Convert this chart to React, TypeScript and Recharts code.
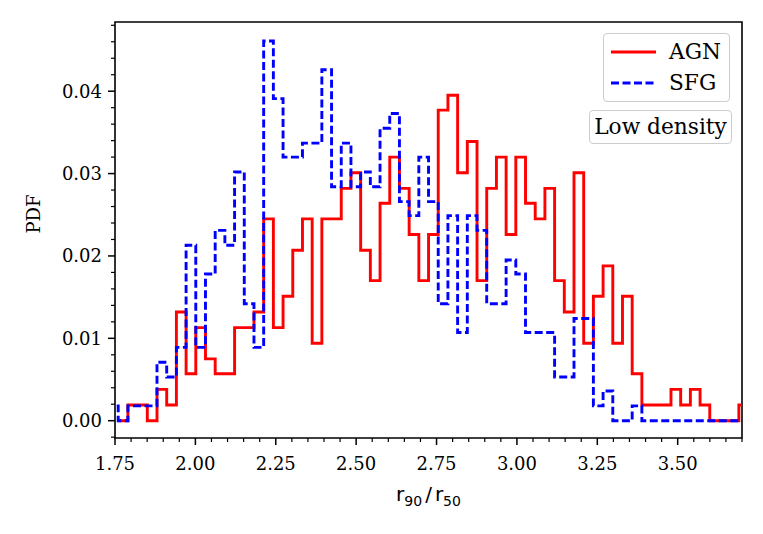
import React from "react";
import { LineChart, Line, XAxis, YAxis, ReferenceArea, Label } from "recharts";

// axis limits
const X_MIN = 1.75;
const X_MAX = 3.7;
const Y_MIN = -0.0021;
const Y_MAX = 0.0484;

const X_MAJOR = [1.75, 2.0, 2.25, 2.5, 2.75, 3.0, 3.25, 3.5];
const Y_MAJOR = [0, 0.01, 0.02, 0.03, 0.04];

// histogram bins (same bin width for both samples)
const BIN_WIDTH = 0.03016;
const AGN_FIRST_EDGE = 1.76;
const SFG_FIRST_EDGE = 1.7298;

// PDF per bin
const AGN_PDF = [
  0, 0.0019, 0.0019, 0, 0.0038, 0.0019, 0.0132, 0.0057, 0.0113, 0.0075,
  0.0057, 0.0057, 0.0113, 0.0113, 0.0132, 0.0245, 0.0113, 0.0151, 0.0207, 0.0245,
  0.0094, 0.0245, 0.0245, 0.0282, 0.0301, 0.0207, 0.017, 0.0264, 0.032, 0.0282,
  0.0226, 0.017, 0.0226, 0.0377, 0.0395, 0.0301, 0.0339, 0.017, 0.0282, 0.032,
  0.0226, 0.032, 0.0264, 0.0245, 0.0282, 0.017, 0.0132, 0.0301, 0.0094, 0.0151,
  0.0188, 0.0094, 0.0151, 0.0057, 0.0019, 0.0019, 0.0019, 0.0038, 0.0019, 0.0038,
  0.0019, 0, 0, 0, 0.0019,
];

const SFG_PDF = [
  0.0018, 0, 0.0018, 0.0018, 0.0018, 0.0071, 0.0053, 0.0089, 0.0213, 0.0089,
  0.0178, 0.0231, 0.0213, 0.0302, 0.0142, 0.0089, 0.0461, 0.0391, 0.032, 0.032,
  0.0337, 0.0337, 0.0426, 0.0284, 0.0337, 0.0284, 0.0302, 0.0284, 0.0355, 0.0373,
  0.0266, 0.0249, 0.032, 0.0266, 0.0142, 0.0249, 0.0107, 0.0249, 0.0231, 0.0142,
  0.0142, 0.0195, 0.0178, 0.0107, 0.0107, 0.0107, 0.0053, 0.0053, 0.0124, 0.0124,
  0.0018, 0.0036, 0, 0, 0.0018, 0, 0, 0, 0, 0,
  0, 0, 0, 0, 0, 0,
];

// outline of a step histogram: up from 0 at the first edge, down to 0 at the last
function stepOutline(firstEdge: number, values: number[]) {
  const pts = [{ x: firstEdge, y: 0 }];
  values.forEach((v, i) => pts.push({ x: firstEdge + i * BIN_WIDTH, y: v }));
  pts.push({ x: firstEdge + values.length * BIN_WIDTH, y: 0 });
  return pts;
}

const agnData = stepOutline(AGN_FIRST_EDGE, AGN_PDF);
const sfgData = stepOutline(SFG_FIRST_EDGE, SFG_PDF);

const xTicks: number[] = [];
for (let i = 0; i <= 39; i++) xTicks.push(Math.round((X_MIN + i * 0.05) * 100) / 100);
const yTicks: number[] = [];
for (let i = -1; i <= 24; i++) yTicks.push(Math.round(i * 0.002 * 1000) / 1000);

const isMajor = (list: number[], v: number) => list.some((m) => Math.abs(m - v) < 1e-6);

const SERIF = "DejaVu Serif";
const LINE_W = 2.9;
const DASH = "8 3.5";

const XTick = (props: any) => {
  const { x, y, payload } = props;
  const major = isMajor(X_MAJOR, payload.value);
  return (
    <g>
      <line x1={x} x2={x} y1={y} y2={y + (major ? 7 : 4)} stroke="#000" strokeWidth={major ? 1.5 : 1.2} />
      {major && (
        <text x={x} y={y + 32} textAnchor="middle" fontFamily={SERIF} fontSize={18} fill="#000">
          {payload.value.toFixed(2)}
        </text>
      )}
    </g>
  );
};

const YTick = (props: any) => {
  const { x, y, payload } = props;
  const major = isMajor(Y_MAJOR, payload.value);
  return (
    <g>
      <line x1={x} x2={x - (major ? 7 : 4)} y1={y} y2={y} stroke="#000" strokeWidth={major ? 1.5 : 1.2} />
      {major && (
        <text x={x - 13} y={y} dy="0.36em" textAnchor="end" fontFamily={SERIF} fontSize={18} fill="#000">
          {payload.value.toFixed(2)}
        </text>
      )}
    </g>
  );
};

const XLabel = (props: any) => {
  const vb = props.viewBox;
  const cx = vb.x + vb.width / 2;
  return (
    <text x={cx} y={vb.y + 63} textAnchor="middle" fontFamily="DejaVu Sans" fontSize={20} fill="#000">
      r<tspan fontSize={14} dy={5}>90</tspan>
      <tspan dy={-5} dx={3}>/</tspan>
      <tspan dx={3}>r</tspan>
      <tspan fontSize={14} dy={5}>50</tspan>
    </text>
  );
};

const YLabel = (props: any) => {
  const vb = props.viewBox;
  const cx = vb.x - 22;
  const cy = vb.y + vb.height / 2 - 16;
  return (
    <text
      x={cx}
      y={cy}
      transform={`rotate(-90 ${cx} ${cy})`}
      textAnchor="middle"
      dominantBaseline="central"
      fontFamily={SERIF}
      fontSize={18}
      fill="#000"
    >
      PDF
    </text>
  );
};

export default function App() {
  return (
    <div style={{ position: "absolute", left: 0, top: 0, width: 763, height: 534, background: "#fff" }}>
      <LineChart width={763} height={534} margin={{ top: 22, right: 21, bottom: 56, left: 55 }}>
        <XAxis
          type="number"
          dataKey="x"
          domain={[X_MIN, X_MAX]}
          allowDataOverflow
          ticks={xTicks}
          interval={0}
          tick={<XTick />}
          tickLine={false}
          tickSize={0}
          tickMargin={0}
          axisLine={false}
          height={40}
        >
          <Label content={<XLabel />} />
        </XAxis>
        <YAxis
          type="number"
          domain={[Y_MIN, Y_MAX]}
          allowDataOverflow
          ticks={yTicks}
          interval={0}
          tick={<YTick />}
          tickLine={false}
          tickSize={0}
          tickMargin={0}
          axisLine={false}
          width={60}
        >
          <Label content={<YLabel />} />
        </YAxis>
        <Line
          data={agnData}
          dataKey="y"
          type="stepAfter"
          stroke="#ff0000"
          strokeWidth={LINE_W}
          dot={false}
          activeDot={false}
          isAnimationActive={false}
        />
        <Line
          data={sfgData}
          dataKey="y"
          type="stepAfter"
          stroke="#0000ff"
          strokeWidth={LINE_W}
          strokeDasharray={DASH}
          dot={false}
          activeDot={false}
          isAnimationActive={false}
        />
        <ReferenceArea
          x1={X_MIN}
          x2={X_MAX}
          y1={Y_MIN}
          y2={Y_MAX}
          fill="none"
          fillOpacity={0}
          stroke="#000"
          strokeWidth={1.6}
        />
      </LineChart>

      <div
        style={{
          position: "absolute",
          left: 603,
          top: 33,
          width: 127,
          height: 69,
          boxSizing: "border-box",
          border: "1px solid #cccccc",
          borderRadius: 4,
          background: "rgba(255,255,255,0.8)",
          fontFamily: SERIF,
          fontSize: 21.7,
        }}
      >
        <svg width={50} height={69} style={{ position: "absolute", left: 6, top: 0 }}>
          <line x1={1} x2={46} y1={18} y2={18} stroke="#ff0000" strokeWidth={LINE_W} />
          <line x1={1} x2={46} y1={49} y2={49} stroke="#0000ff" strokeWidth={LINE_W} strokeDasharray={DASH} />
        </svg>
        <div style={{ position: "absolute", left: 65, top: 4, lineHeight: "28px" }}>AGN</div>
        <div style={{ position: "absolute", left: 65, top: 35, lineHeight: "28px" }}>SFG</div>
      </div>

      <div
        style={{
          position: "absolute",
          left: 589,
          top: 110,
          width: 143,
          height: 34,
          boxSizing: "border-box",
          border: "1px solid #cccccc",
          borderRadius: 4,
          background: "rgba(255,255,255,0.8)",
          fontFamily: SERIF,
          fontSize: 21.7,
          lineHeight: "32px",
          textAlign: "center",
          whiteSpace: "nowrap",
        }}
      >
        Low density
      </div>
    </div>
  );
}
